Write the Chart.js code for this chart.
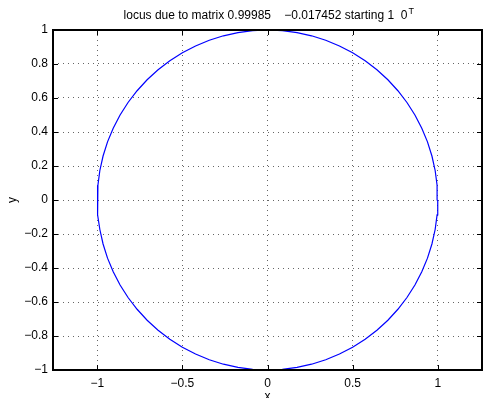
<!DOCTYPE html>
<html>
<head>
<meta charset="utf-8">
<script src="https://cdn.jsdelivr.net/npm/chart.js@4"></script>
<style>
  html, body { margin: 0; padding: 0; background: #fff; }
  #wrap { width: 483px; height: 398px; }
</style>
</head>
<body>
<div id="wrap"><canvas id="locus"></canvas></div>
<script>
// locus of [1 0]' under repeated rotation, sampled every 5 steps
const xs = [1, 0.9962, 0.9848, 0.9659, 0.9397, 0.9063, 0.8660, 0.8192, 0.7660, 0.7071, 0.6428, 0.5736, 0.5, 0.4226, 0.3420, 0.2588, 0.1736, 0.0872, 0,
  -0.0872, -0.1736, -0.2588, -0.3420, -0.4226, -0.5, -0.5736, -0.6428, -0.7071, -0.7660, -0.8192, -0.8660, -0.9063, -0.9397, -0.9659, -0.9848, -0.9962, -1,
  -0.9962, -0.9848, -0.9659, -0.9397, -0.9063, -0.8660, -0.8192, -0.7660, -0.7071, -0.6428, -0.5736, -0.5, -0.4226, -0.3420, -0.2588, -0.1736, -0.0872, 0,
  0.0872, 0.1736, 0.2588, 0.3420, 0.4226, 0.5, 0.5736, 0.6428, 0.7071, 0.7660, 0.8192, 0.8660, 0.9063, 0.9397, 0.9659, 0.9848, 0.9962, 1];
const ys = [0, 0.0872, 0.1736, 0.2588, 0.3420, 0.4226, 0.5, 0.5736, 0.6428, 0.7071, 0.7660, 0.8192, 0.8660, 0.9063, 0.9397, 0.9659, 0.9848, 0.9962, 1,
  0.9962, 0.9848, 0.9659, 0.9397, 0.9063, 0.8660, 0.8192, 0.7660, 0.7071, 0.6428, 0.5736, 0.5, 0.4226, 0.3420, 0.2588, 0.1736, 0.0872, 0,
  -0.0872, -0.1736, -0.2588, -0.3420, -0.4226, -0.5, -0.5736, -0.6428, -0.7071, -0.7660, -0.8192, -0.8660, -0.9063, -0.9397, -0.9659, -0.9848, -0.9962, -1,
  -0.9962, -0.9848, -0.9659, -0.9397, -0.9063, -0.8660, -0.8192, -0.7660, -0.7071, -0.6428, -0.5736, -0.5, -0.4226, -0.3420, -0.2588, -0.1736, -0.0872, 0];

const xTicks = [-1, -0.5, 0, 0.5, 1];
const yTicks = [-1, -0.8, -0.6, -0.4, -0.2, 0, 0.2, 0.4, 0.6, 0.8, 1];
const xRange = [-1.26, 1.26];
const yRange = [-1, 1];

const FONT = '"Liberation Sans", Arial, Helvetica, sans-serif';
const fmt = v => String(+v.toFixed(2)).replace('-', '\u2212');

// matlab style box, inward ticks, title and axis labels
const matlabFrame = {
  id: 'matlabFrame',
  afterDatasetsDraw(chart) {
    const {ctx, chartArea: a, scales: {x, y}} = chart;
    ctx.save();
    ctx.strokeStyle = '#000';
    ctx.lineWidth = 1;
    ctx.beginPath();
    xTicks.forEach(v => {
      const px = Math.round(x.getPixelForValue(v)) + 0.5;
      ctx.moveTo(px, a.bottom); ctx.lineTo(px, a.bottom - 5);
      ctx.moveTo(px, a.top); ctx.lineTo(px, a.top + 5);
    });
    yTicks.forEach(v => {
      const py = Math.round(y.getPixelForValue(v)) + 0.5;
      ctx.moveTo(a.left, py); ctx.lineTo(a.left + 5, py);
      ctx.moveTo(a.right, py); ctx.lineTo(a.right - 5, py);
    });
    ctx.stroke();
    ctx.lineWidth = 2;
    ctx.strokeRect(a.left, a.top, a.right - a.left, a.bottom - a.top);

    ctx.fillStyle = '#000';
    ctx.font = '12px ' + FONT;
    ctx.textBaseline = 'alphabetic';
    const main = 'locus due to matrix 0.99985    \u22120.017452 starting 1  0';
    const w = ctx.measureText(main).width;
    const cx = (a.left + a.right) / 2;
    ctx.textAlign = 'left';
    ctx.fillText(main, cx - w / 2 - 2, 19);
    ctx.font = '9px ' + FONT;
    ctx.fillText('T', cx + w / 2 - 1, 14);

    ctx.font = '12px ' + FONT;
    ctx.textAlign = 'center';
    ctx.textBaseline = 'top';
    ctx.fillText('x', cx, 391);
    ctx.save();
    ctx.translate(19, (a.top + a.bottom) / 2);
    ctx.rotate(-Math.PI / 2);
    ctx.textBaseline = 'bottom';
    ctx.fillText('y', 0, 0);
    ctx.restore();
    ctx.restore();
  }
};

new Chart(document.getElementById('locus'), {
  type: 'scatter',
  data: {
    datasets: [{
      data: xs.map((v, i) => ({x: v, y: ys[i]})),
      showLine: true,
      borderColor: '#0000ff',
      borderWidth: 1.2,
      pointRadius: 0,
      tension: 0
    }]
  },
  options: {
    responsive: true,
    maintainAspectRatio: false,
    animation: false,
    layout: { padding: { top: 30, right: 1, left: 0, bottom: 0 } },
    plugins: { legend: { display: false }, tooltip: { enabled: false } },
    scales: {
      x: {
        min: xRange[0], max: xRange[1],
        afterBuildTicks: s => { s.ticks = xTicks.map(v => ({value: v})); },
        afterFit: s => { s.height = 28; },
        grid: { color: '#666', lineWidth: 1, drawTicks: false },
        border: { display: false, dash: [1, 4] },
        ticks: { color: '#000', padding: 6, font: { family: FONT, size: 12 }, callback: v => fmt(v), maxRotation: 0, autoSkip: false }
      },
      y: {
        min: yRange[0], max: yRange[1],
        afterBuildTicks: s => { s.ticks = yTicks.map(v => ({value: v})); },
        afterFit: s => { s.width = 53; },
        grid: { color: '#666', lineWidth: 1, drawTicks: false },
        border: { display: false, dash: [1, 4] },
        ticks: { color: '#000', padding: 5, font: { family: FONT, size: 12 }, callback: v => fmt(v), autoSkip: false }
      }
    }
  },
  plugins: [matlabFrame]
});
</script>
</body>
</html>
